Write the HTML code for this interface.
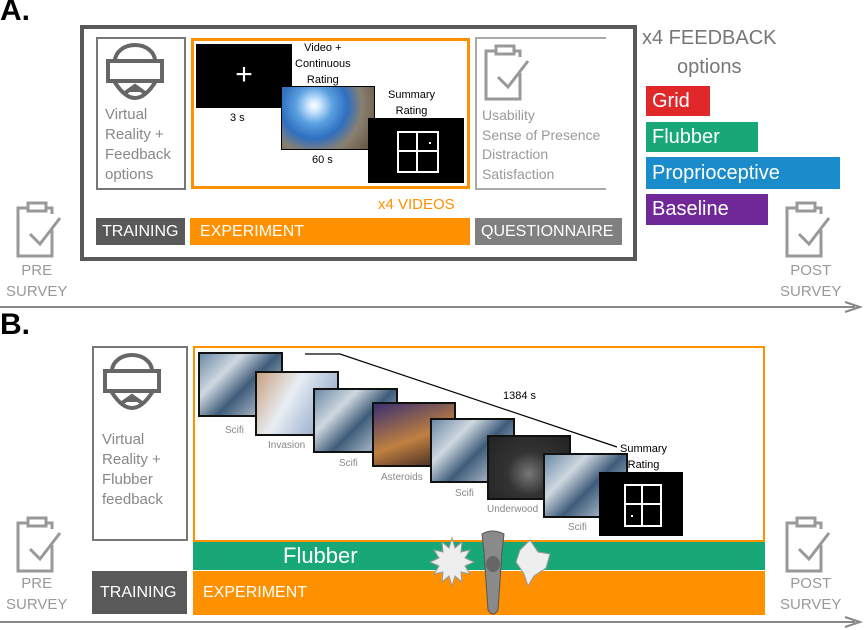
<!DOCTYPE html>
<html><head><meta charset="utf-8"><style>
body{margin:0;width:865px;height:630px;position:relative;background:#fff;font-family:"Liberation Sans",sans-serif;overflow:hidden}
.a{position:absolute}
.t{position:absolute;white-space:nowrap}
.g{color:#888}
.bar{position:absolute;color:#fff;font-size:16px;line-height:27px;padding-left:10px;box-sizing:border-box}
.scifi{background:linear-gradient(135deg,#6c8aa6,#cfd8e0 30%,#3e5c7a 55%,#9ab 80%,#445);border:2px solid #111}
.lab{position:absolute;font-size:10px;color:#888}
</style></head><body>
<div class="t" style="left:0;top:-6px;font-size:30px;font-weight:bold">A.</div>
<div class="a" style="left:80px;top:25px;width:549px;height:228px;border:4px solid #595959"></div>
<div class="a" style="left:96px;top:37px;width:86px;height:149px;border:2px solid #777"></div>
<svg class="a" style="left:105px;top:43px" width="62" height="64" viewBox="0 0 62 64" fill="none" stroke="#666" stroke-width="4"><path d="M10 18 A20 16 0 0 1 50 18"/><rect x="3" y="18" width="54" height="20"/><path d="M9 38 Q30 72 51 38"/><path d="M20 50 L30 43 L40 50"/><line x1="25" y1="47" x2="35" y2="47"/></svg>
<div class="t" style="left:105px;top:105px;font-size:15px;line-height:20px;color:#888">Virtual<br>Reality +<br>Feedback<br>options</div>
<div class="a" style="left:191px;top:38px;width:273px;height:145px;border:3px solid #ff9000"></div>
<div class="a" style="left:196px;top:44px;width:96px;height:64px;background:#000;color:#fff;font-size:30px;text-align:center;line-height:62px">+</div>
<div class="t" style="left:230px;top:112px;font-size:11px">3 s</div>
<div class="t" style="left:295px;top:40px;font-size:11px;line-height:16px;text-align:center">Video +<br>Continuous<br>Rating</div>
<div class="a" style="left:281px;top:86px;width:92px;height:62px;border:1px solid #000;background:radial-gradient(circle at 35% 30%,#fff 0,#cfe8ff 8%,#5aa0e0 25%,#2f6fc0 45%,#8a8070 65%,#6a5a48 90%)"></div>
<div class="t" style="left:312px;top:154px;font-size:11px">60 s</div>
<div class="t" style="left:388px;top:87px;font-size:11px;line-height:16px;text-align:center">Summary<br>Rating</div>
<div class="a" style="left:368px;top:118px;width:96px;height:65px;background:#000"></div>
<div class="a" style="left:397px;top:131px;width:38px;height:38px;border:2px solid #fff"></div>
<div class="a" style="left:416px;top:131px;width:2px;height:42px;background:#fff"></div>
<div class="a" style="left:397px;top:150px;width:42px;height:2px;background:#fff"></div>
<div class="a" style="left:429px;top:142px;width:2px;height:2px;background:#fff"></div>
<div class="a" style="left:475px;top:37px;width:129px;height:149px;border:2px solid #aaa;border-right:none"></div>
<svg class="a" style="left:482px;top:43px" width="50" height="58" viewBox="0 0 50 58" fill="none" stroke="#999" stroke-width="3"><path d="M14 8H4V56H38V30"/><rect x="14" y="3" width="18" height="8"/><path d="M32 8H38V14"/><path d="M16 34L26 44L46 18"/></svg>
<div class="t" style="left:482px;top:106px;font-size:14px;line-height:19.5px;color:#999">Usability<br>Sense of Presence<br>Distraction<br>Satisfaction</div>
<div class="t" style="left:378px;top:196px;font-size:15px;color:#ff9000">x4 VIDEOS</div>
<div class="bar" style="left:96px;top:218px;width:89px;height:27px;background:#595959;padding-left:6px">TRAINING</div>
<div class="bar" style="left:190px;top:218px;width:280px;height:27px;background:#ff9000">EXPERIMENT</div>
<div class="bar" style="left:475px;top:218px;width:147px;height:27px;background:#808080;padding-left:6px">QUESTIONNAIRE</div>
<div class="t" style="left:642px;top:24px;font-size:20px;line-height:29px;color:#777;text-align:center">x4 FEEDBACK<br>options</div>
<div class="bar" style="left:646px;top:86px;width:64px;height:30px;background:#e0282a;font-size:20px;line-height:30px;padding-left:6px">Grid</div>
<div class="bar" style="left:646px;top:122px;width:112px;height:30px;background:#18a878;font-size:20px;line-height:30px;padding-left:6px">Flubber</div>
<div class="bar" style="left:646px;top:157px;width:194px;height:32px;background:#1a8ccc;font-size:20px;line-height:32px;padding-left:6px">Proprioceptive</div>
<div class="bar" style="left:646px;top:194px;width:122px;height:31px;background:#702898;font-size:20px;line-height:31px;padding-left:6px">Baseline</div>
<svg class="a" style="left:14px;top:200px" width="50" height="58" viewBox="0 0 50 58" fill="none" stroke="#999" stroke-width="3"><path d="M14 8H4V56H38V30"/><rect x="14" y="3" width="18" height="8"/><path d="M32 8H38V14"/><path d="M16 34L26 44L46 18"/></svg>
<div class="t g" style="left:6px;top:260px;font-size:15px;line-height:21px;text-align:center;color:#999">PRE<br>SURVEY</div>
<svg class="a" style="left:783px;top:200px" width="50" height="58" viewBox="0 0 50 58" fill="none" stroke="#999" stroke-width="3"><path d="M14 8H4V56H38V30"/><rect x="14" y="3" width="18" height="8"/><path d="M32 8H38V14"/><path d="M16 34L26 44L46 18"/></svg>
<div class="t" style="left:780px;top:260px;font-size:15px;line-height:21px;text-align:center;color:#999">POST<br>SURVEY</div>
<svg class="a" style="left:0;top:300px" width="865" height="14"><line x1="0" y1="7" x2="855" y2="7" stroke="#888" stroke-width="2"/><path d="M845 2L860 7L845 12" fill="none" stroke="#888" stroke-width="2"/></svg>

<div class="t" style="left:0;top:308px;font-size:30px;font-weight:bold">B.</div>
<div class="a" style="left:92px;top:346px;width:92px;height:191px;border:2px solid #777"></div>
<svg class="a" style="left:102px;top:353px" width="62" height="64" viewBox="0 0 62 64" fill="none" stroke="#666" stroke-width="4"><path d="M10 18 A20 16 0 0 1 50 18"/><rect x="3" y="18" width="54" height="20"/><path d="M9 38 Q30 72 51 38"/><path d="M20 50 L30 43 L40 50"/><line x1="25" y1="47" x2="35" y2="47"/></svg>
<div class="t" style="left:102px;top:430px;font-size:15px;line-height:20px;color:#888">Virtual<br>Reality +<br>Flubber<br>feedback</div>
<div class="a" style="left:193px;top:346px;width:568px;height:192px;border:2px solid #ff9000"></div>
<svg class="a" style="left:0;top:0" width="865" height="630"><polyline points="305,354 340,354 617,447" fill="none" stroke="#000" stroke-width="1.2"/></svg>
<div class="t" style="left:503px;top:390px;font-size:11px">1384 s</div>
<div class="a scifi" style="left:198px;top:352px;width:81px;height:61px"></div>
<div class="lab" style="left:225px;top:425px">Scifi</div>
<div class="a" style="left:255px;top:371px;width:80px;height:61px;border:2px solid #111;background:linear-gradient(120deg,#c8a080,#e8eef4 40%,#b0c0d8 70%,#9090b0)"></div>
<div class="lab" style="left:268px;top:440px">Invasion</div>
<div class="a scifi" style="left:313px;top:388px;width:81px;height:61px"></div>
<div class="lab" style="left:339px;top:458px">Scifi</div>
<div class="a" style="left:372px;top:402px;width:80px;height:61px;border:2px solid #111;background:linear-gradient(160deg,#3a3070,#c08040 55%,#302020)"></div>
<div class="lab" style="left:381px;top:472px">Asteroids</div>
<div class="a scifi" style="left:430px;top:418px;width:81px;height:61px"></div>
<div class="lab" style="left:455px;top:488px">Scifi</div>
<div class="a" style="left:487px;top:435px;width:80px;height:61px;border:2px solid #111;background:radial-gradient(circle at 50% 60%,#777,#333 40%,#222)"></div>
<div class="lab" style="left:487px;top:504px">Underwood</div>
<div class="a scifi" style="left:543px;top:453px;width:81px;height:61px"></div>
<div class="lab" style="left:568px;top:522px">Scifi</div>
<div class="t" style="left:620px;top:441px;font-size:11px;line-height:16px;text-align:center">Summary<br>Rating</div>
<div class="a" style="left:599px;top:472px;width:84px;height:64px;background:#000"></div>
<div class="a" style="left:624px;top:484px;width:34px;height:39px;border:2px solid #fff"></div>
<div class="a" style="left:641px;top:484px;width:2px;height:42px;background:#fff"></div>
<div class="a" style="left:624px;top:503px;width:38px;height:2px;background:#fff"></div>
<div class="a" style="left:631px;top:515px;width:2px;height:2px;background:#fff"></div>
<div class="a" style="left:193px;top:542px;width:572px;height:28px;background:#18a878;color:#fff;font-size:22px;line-height:28px;padding-left:90px;box-sizing:border-box">Flubber</div>
<div class="bar" style="left:193px;top:571px;width:572px;height:44px;background:#ff9000;line-height:44px">EXPERIMENT</div>
<div class="bar" style="left:92px;top:571px;width:95px;height:43px;background:#595959;line-height:43px;padding-left:8px">TRAINING</div>
<svg class="a" style="left:420px;top:530px" width="140" height="100"><polygon points="20,8 23,18 30,12 29,22 38,20 33,28 42,32 33,36 38,44 29,42 30,52 23,46 20,56 17,46 10,52 11,42 2,44 7,36 -2,32 7,28 2,20 11,22 10,12 17,18" fill="#eee" stroke="#999" transform="translate(12,0)"/><path d="M110 10 L118 22 L130 24 L126 38 L114 46 L108 56 L104 44 L96 32 L100 20Z" fill="#eee" stroke="#999"/><path d="M62 4 Q72 -2 84 4 L82 22 L78 80 Q73 88 68 80 L64 22Z" fill="#8a8a8a" stroke="#555"/><ellipse cx="73" cy="34" rx="7" ry="8" fill="#666"/></svg>
<svg class="a" style="left:14px;top:515px" width="50" height="58" viewBox="0 0 50 58" fill="none" stroke="#999" stroke-width="3"><path d="M14 8H4V56H38V30"/><rect x="14" y="3" width="18" height="8"/><path d="M32 8H38V14"/><path d="M16 34L26 44L46 18"/></svg>
<div class="t" style="left:6px;top:573px;font-size:15px;line-height:21px;text-align:center;color:#999">PRE<br>SURVEY</div>
<svg class="a" style="left:783px;top:515px" width="50" height="58" viewBox="0 0 50 58" fill="none" stroke="#999" stroke-width="3"><path d="M14 8H4V56H38V30"/><rect x="14" y="3" width="18" height="8"/><path d="M32 8H38V14"/><path d="M16 34L26 44L46 18"/></svg>
<div class="t" style="left:780px;top:573px;font-size:15px;line-height:21px;text-align:center;color:#999">POST<br>SURVEY</div>
<svg class="a" style="left:0;top:615px" width="865" height="14"><line x1="0" y1="7" x2="855" y2="7" stroke="#888" stroke-width="2"/><path d="M845 2L860 7L845 12" fill="none" stroke="#888" stroke-width="2"/></svg>
</body></html>
